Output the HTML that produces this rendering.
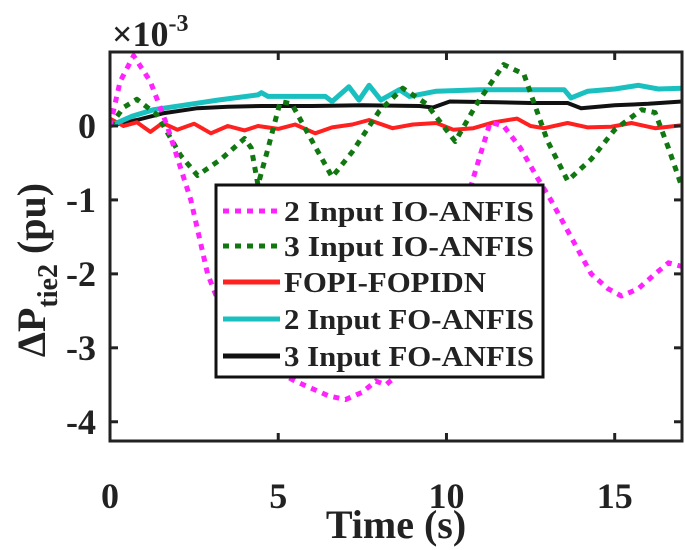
<!DOCTYPE html>
<html><head><meta charset="utf-8">
<style>
html,body{margin:0;padding:0;background:#fff;}
svg{display:block;}
text{font-family:"Liberation Serif",serif;font-weight:bold;fill:#222;}
</style></head>
<body>
<svg id="chart" width="685" height="550" xmlns="http://www.w3.org/2000/svg"></svg>
<script>
const xTicks = [0, 5, 10, 15];
const yTicks = [0, -1, -2, -3, -4];
const seriesNames = ["2 Input IO-ANFIS", "3 Input IO-ANFIS", "FOPI-FOPIDN", "2 Input FO-ANFIS", "3 Input FO-ANFIS"];
const magentaT = [0,0.3,0.7,1.2,1.7,2.4,2.9,3.5,4.5,5.5,6.5,7,7.5,7.9,8.2,8.6,9.2,9.8,10.3,10.6,11,11.3,11.7,12.2,12.7,13.1,13.7,14.3,14.8,15.2,15.7,16.2,16.6,17];
const magentaV = [0,0.6,0.95,0.6,0,-1,-2,-2.7,-3.2,-3.45,-3.65,-3.7,-3.6,-3.45,-3.5,-3.35,-2.9,-2.2,-1.5,-1,-0.4,0.05,0,-0.3,-0.7,-1,-1.5,-2,-2.2,-2.3,-2.2,-2.0,-1.85,-1.9];
const greenT = [0,0.4,0.8,1.4,2.1,2.6,3.3,4.0,4.2,4.4,4.7,5.06,5.4,6.0,6.6,7.2,8.0,8.7,9.4,10.26,10.9,11.7,12.3,13.0,13.6,14.3,15.0,15.8,16.2,16.6,17];
const greenV = [0,0.25,0.36,0.15,-0.4,-0.67,-0.45,-0.17,-0.3,-0.8,-0.3,0.33,0.3,-0.2,-0.69,-0.35,0.2,0.51,0.3,-0.21,0.3,0.83,0.7,-0.2,-0.74,-0.45,-0.05,0.22,0.18,-0.3,-0.83];
const redT = [0,0.4,0.8,1.2,1.56,2.0,2.5,3.0,3.5,4.0,4.4,5.0,5.5,6.1,6.6,7.2,7.7,8.4,9.0,9.7,10.2,10.8,11.4,12.1,12.5,12.9,13.6,14.2,14.9,15.5,16.2,17];
const redV = [0.1,0.0,0.05,-0.08,0.04,-0.05,0.03,-0.1,0.0,-0.06,0,-0.04,0.02,-0.1,-0.02,0.02,0.08,-0.03,0.02,0.04,-0.05,-0.03,0.05,0.1,0.0,-0.03,0.04,-0.02,-0.01,0.04,-0.03,0.01];
const cyanT = [0,0.65,1.3,2.2,3.2,4.4,4.5,4.7,5.5,6.4,6.6,7.1,7.4,7.7,8.05,8.6,8.9,9.7,11,12.5,13.5,13.7,14.2,15.0,15.7,16.3,17];
const cyanV = [0,0.13,0.22,0.28,0.35,0.42,0.45,0.4,0.4,0.4,0.33,0.53,0.35,0.55,0.35,0.49,0.4,0.47,0.49,0.49,0.49,0.38,0.47,0.5,0.55,0.5,0.51];
const blackT = [0,0.8,1.56,2.6,3.5,4.5,6,7.5,9.2,9.6,10.1,11.5,12.5,13.6,14,15,16,17];
const blackV = [0,0.08,0.17,0.24,0.26,0.27,0.27,0.28,0.27,0.25,0.33,0.32,0.31,0.31,0.24,0.28,0.3,0.33];

const L=110,R=682,T=52,B=441,XMAX=17,YMAX=1,YMIN=-4.26;
const sx=t=>L+(t/XMAX)*(R-L);
const sy=v=>T+(YMAX-v)/(YMAX-YMIN)*(B-T);
const NS="http://www.w3.org/2000/svg";
const svg=document.getElementById('chart');
function mk(tag,attrs,parent){const e=document.createElementNS(NS,tag);for(const k in attrs)e.setAttribute(k,attrs[k]);(parent||svg).appendChild(e);return e;}

const clip=mk('clipPath',{id:'pc'});mk('rect',{x:L,y:T,width:R-L,height:B-T},clip);
const g=mk('g',{'clip-path':'url(#pc)'});


function line(ts,vs,color,w,dash,name){
  const d=ts.map((t,i)=>(i?'L':'M')+sx(t).toFixed(1)+','+sy(vs[i]).toFixed(1)).join(' ');
  const p=mk('path',{d:d,fill:'none',stroke:color,'stroke-width':w,'stroke-dasharray':dash||'none','stroke-linejoin':'round'},g);
  
  
}
line(blackT,blackV,'#111',4,null,'series-3-input-fo-anfis');
line(redT,redV,'#ff2020',4,null,'series-fopi-fopidn');
line(cyanT,cyanV,'#1abfbf',5,null,'series-2-input-fo-anfis');
line(greenT,greenV,'#117711',5,'6,6','series-3-input-io-anfis');
line(magentaT,magentaV,'#ff22ff',5,'6,6','series-2-input-io-anfis');

const frame=mk('rect',{x:L,y:T,width:R-L,height:B-T,fill:'none',stroke:'#222','stroke-width':3});


xTicks.forEach(t=>{
  const x=sx(t);
  mk('line',{x1:x,x2:x,y1:B,y2:B-8,stroke:'#222','stroke-width':3});
  mk('line',{x1:x,x2:x,y1:T,y2:T+8,stroke:'#222','stroke-width':3});
  const tx=mk('text',{x:x,y:508,'font-size':36,'text-anchor':'middle'});tx.textContent=t;
  
  
});
yTicks.forEach(v=>{
  const y=sy(v);
  mk('line',{x1:L,x2:L+8,y1:y,y2:y,stroke:'#222','stroke-width':3});
  mk('line',{x1:R,x2:R-8,y1:y,y2:y,stroke:'#222','stroke-width':3});
  const tx=mk('text',{x:96,y:y+12,'font-size':36,'text-anchor':'end'});tx.textContent=v;
  
  
});
const xt=mk('text',{x:396,y:538,'font-size':40,'text-anchor':'middle'});xt.textContent='Time (s)';


const yt=mk('text',{transform:'translate(45,270) rotate(-90)','font-size':40,'text-anchor':'middle'});
yt.innerHTML='ΔP<tspan font-size="28" dy="12">tie2</tspan><tspan dy="-12"> (pu)</tspan>';


const ex=mk('text',{x:112,y:46,'font-size':36,'font-weight':'normal'});
ex.innerHTML='×10<tspan font-size="24" dy="-15">-3</tspan>';



const lg=mk('g',{});


mk('rect',{x:216,y:185,width:327,height:192,fill:'#fff',stroke:'#111','stroke-width':3},lg);
const lc=['#ff22ff','#117711','#ff2020','#1abfbf','#111'];
const ld=['6,6','6,6',null,null,null];
const ly=[211,246,282,319,356];
const lw=[250,250,202,250,250];
seriesNames.forEach((n,i)=>{
  const e=mk('g',{},lg);
  
  
  mk('line',{x1:223,x2:280,y1:ly[i],y2:ly[i],stroke:lc[i],'stroke-width':5,'stroke-dasharray':ld[i]||'none'},e);
  const t=mk('text',{x:284,y:ly[i]+10,'font-size':29,textLength:lw[i],lengthAdjust:'spacingAndGlyphs'},e);t.textContent=n;
});
</script>
</body></html>
